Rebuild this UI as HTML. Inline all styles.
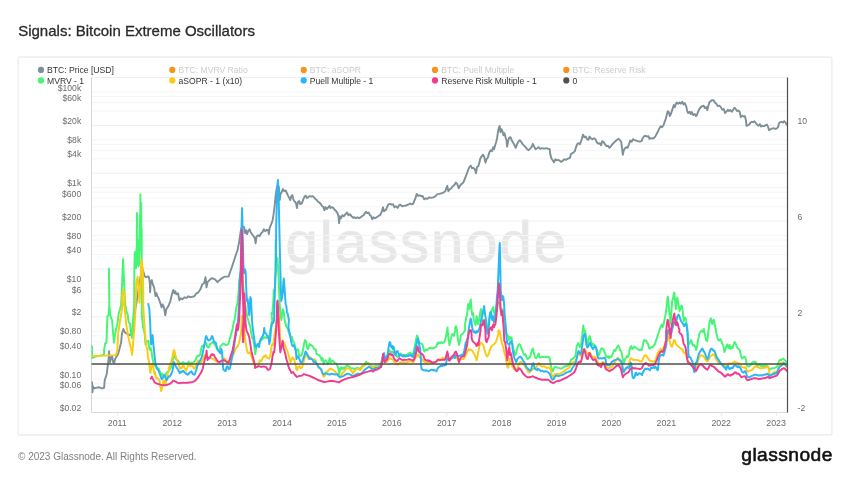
<!DOCTYPE html>
<html><head><meta charset="utf-8"><title>Signals: Bitcoin Extreme Oscillators</title>
<style>
html,body{margin:0;padding:0;background:#fff;}
body{width:850px;height:478px;overflow:hidden;font-family:"Liberation Sans",sans-serif;}
svg{display:block;will-change:transform}
text{font-family:"Liberation Sans",sans-serif;}
</style></head><body>
<svg width="850" height="478" viewBox="0 0 850 478">
<rect width="850" height="478" fill="#fff"/>

<text x="18.2" y="35.8" font-size="15" fill="#2a2a2a" stroke="#2a2a2a" stroke-width="0.3">Signals: Bitcoin Extreme Oscillators</text>
<rect x="18.2" y="57.1" width="813.7" height="377.8" rx="1.5" fill="none" stroke="#f0f0f0" stroke-width="1.6"/>
<text x="285.6" y="262" font-size="58" fill="#e7e7e7" stroke="#e7e7e7" stroke-width="0.9" textLength="280.5" lengthAdjust="spacing">glassnode</text>
<line x1="91.5" x2="787.5" y1="77.5" y2="77.5" stroke="#eeeeee" stroke-width="1"/>
<line x1="91.5" x2="787.5" y1="111.0" y2="111.0" stroke="#f5f5f5" stroke-width="1"/>
<line x1="91.5" x2="787.5" y1="102.5" y2="102.5" stroke="#f5f5f5" stroke-width="1"/>
<line x1="91.5" x2="787.5" y1="96.5" y2="96.5" stroke="#f5f5f5" stroke-width="1"/>
<line x1="91.5" x2="787.5" y1="91.9" y2="91.9" stroke="#f5f5f5" stroke-width="1"/>
<line x1="91.5" x2="787.5" y1="125.4" y2="125.4" stroke="#eeeeee" stroke-width="1"/>
<line x1="91.5" x2="787.5" y1="158.8" y2="158.8" stroke="#f5f5f5" stroke-width="1"/>
<line x1="91.5" x2="787.5" y1="150.4" y2="150.4" stroke="#f5f5f5" stroke-width="1"/>
<line x1="91.5" x2="787.5" y1="144.4" y2="144.4" stroke="#f5f5f5" stroke-width="1"/>
<line x1="91.5" x2="787.5" y1="139.8" y2="139.8" stroke="#f5f5f5" stroke-width="1"/>
<line x1="91.5" x2="787.5" y1="173.2" y2="173.2" stroke="#eeeeee" stroke-width="1"/>
<line x1="91.5" x2="787.5" y1="206.7" y2="206.7" stroke="#f5f5f5" stroke-width="1"/>
<line x1="91.5" x2="787.5" y1="198.2" y2="198.2" stroke="#f5f5f5" stroke-width="1"/>
<line x1="91.5" x2="787.5" y1="192.3" y2="192.3" stroke="#f5f5f5" stroke-width="1"/>
<line x1="91.5" x2="787.5" y1="187.6" y2="187.6" stroke="#f5f5f5" stroke-width="1"/>
<line x1="91.5" x2="787.5" y1="221.1" y2="221.1" stroke="#eeeeee" stroke-width="1"/>
<line x1="91.5" x2="787.5" y1="254.5" y2="254.5" stroke="#f5f5f5" stroke-width="1"/>
<line x1="91.5" x2="787.5" y1="246.1" y2="246.1" stroke="#f5f5f5" stroke-width="1"/>
<line x1="91.5" x2="787.5" y1="240.1" y2="240.1" stroke="#f5f5f5" stroke-width="1"/>
<line x1="91.5" x2="787.5" y1="235.5" y2="235.5" stroke="#f5f5f5" stroke-width="1"/>
<line x1="91.5" x2="787.5" y1="268.9" y2="268.9" stroke="#eeeeee" stroke-width="1"/>
<line x1="91.5" x2="787.5" y1="302.4" y2="302.4" stroke="#f5f5f5" stroke-width="1"/>
<line x1="91.5" x2="787.5" y1="294.0" y2="294.0" stroke="#f5f5f5" stroke-width="1"/>
<line x1="91.5" x2="787.5" y1="288.0" y2="288.0" stroke="#f5f5f5" stroke-width="1"/>
<line x1="91.5" x2="787.5" y1="283.3" y2="283.3" stroke="#f5f5f5" stroke-width="1"/>
<line x1="91.5" x2="787.5" y1="316.8" y2="316.8" stroke="#eeeeee" stroke-width="1"/>
<line x1="91.5" x2="787.5" y1="350.2" y2="350.2" stroke="#f5f5f5" stroke-width="1"/>
<line x1="91.5" x2="787.5" y1="341.8" y2="341.8" stroke="#f5f5f5" stroke-width="1"/>
<line x1="91.5" x2="787.5" y1="335.8" y2="335.8" stroke="#f5f5f5" stroke-width="1"/>
<line x1="91.5" x2="787.5" y1="331.2" y2="331.2" stroke="#f5f5f5" stroke-width="1"/>
<line x1="91.5" x2="787.5" y1="364.6" y2="364.6" stroke="#eeeeee" stroke-width="1"/>
<line x1="91.5" x2="787.5" y1="398.1" y2="398.1" stroke="#f5f5f5" stroke-width="1"/>
<line x1="91.5" x2="787.5" y1="389.7" y2="389.7" stroke="#f5f5f5" stroke-width="1"/>
<line x1="91.5" x2="787.5" y1="383.7" y2="383.7" stroke="#f5f5f5" stroke-width="1"/>
<line x1="91.5" x2="787.5" y1="379.0" y2="379.0" stroke="#f5f5f5" stroke-width="1"/>
<line x1="91.5" x2="787.5" y1="412.5" y2="412.5" stroke="#eeeeee" stroke-width="1"/>
<line x1="91.5" x2="91.5" y1="77.5" y2="412.5" stroke="#cfd8dc" stroke-width="1"/>
<line x1="91.5" x2="787.5" y1="412.5" y2="412.5" stroke="#d5dde2" stroke-width="1"/>
<line x1="117.5" x2="117.5" y1="412.5" y2="415.5" stroke="#e3e8ec" stroke-width="1"/>
<line x1="172.4" x2="172.4" y1="412.5" y2="415.5" stroke="#e3e8ec" stroke-width="1"/>
<line x1="227.3" x2="227.3" y1="412.5" y2="415.5" stroke="#e3e8ec" stroke-width="1"/>
<line x1="282.2" x2="282.2" y1="412.5" y2="415.5" stroke="#e3e8ec" stroke-width="1"/>
<line x1="337.1" x2="337.1" y1="412.5" y2="415.5" stroke="#e3e8ec" stroke-width="1"/>
<line x1="392.0" x2="392.0" y1="412.5" y2="415.5" stroke="#e3e8ec" stroke-width="1"/>
<line x1="446.9" x2="446.9" y1="412.5" y2="415.5" stroke="#e3e8ec" stroke-width="1"/>
<line x1="501.8" x2="501.8" y1="412.5" y2="415.5" stroke="#e3e8ec" stroke-width="1"/>
<line x1="556.7" x2="556.7" y1="412.5" y2="415.5" stroke="#e3e8ec" stroke-width="1"/>
<line x1="611.6" x2="611.6" y1="412.5" y2="415.5" stroke="#e3e8ec" stroke-width="1"/>
<line x1="666.5" x2="666.5" y1="412.5" y2="415.5" stroke="#e3e8ec" stroke-width="1"/>
<line x1="721.4" x2="721.4" y1="412.5" y2="415.5" stroke="#e3e8ec" stroke-width="1"/>
<line x1="776.3" x2="776.3" y1="412.5" y2="415.5" stroke="#e3e8ec" stroke-width="1"/>
<text x="81.2" y="90.5" font-size="8.6" text-anchor="end" fill="#6a6a6a">$100k</text>
<text x="81.2" y="101.1" font-size="8.6" text-anchor="end" fill="#6a6a6a">$60k</text>
<text x="81.2" y="124.0" font-size="8.6" text-anchor="end" fill="#6a6a6a">$20k</text>
<text x="81.2" y="143.0" font-size="8.6" text-anchor="end" fill="#6a6a6a">$8k</text>
<text x="81.2" y="157.4" font-size="8.6" text-anchor="end" fill="#6a6a6a">$4k</text>
<text x="81.2" y="186.2" font-size="8.6" text-anchor="end" fill="#6a6a6a">$1k</text>
<text x="81.2" y="196.8" font-size="8.6" text-anchor="end" fill="#6a6a6a">$600</text>
<text x="81.2" y="219.7" font-size="8.6" text-anchor="end" fill="#6a6a6a">$200</text>
<text x="81.2" y="238.7" font-size="8.6" text-anchor="end" fill="#6a6a6a">$80</text>
<text x="81.2" y="253.1" font-size="8.6" text-anchor="end" fill="#6a6a6a">$40</text>
<text x="81.2" y="281.9" font-size="8.6" text-anchor="end" fill="#6a6a6a">$10</text>
<text x="81.2" y="292.6" font-size="8.6" text-anchor="end" fill="#6a6a6a">$6</text>
<text x="81.2" y="315.4" font-size="8.6" text-anchor="end" fill="#6a6a6a">$2</text>
<text x="81.2" y="334.4" font-size="8.6" text-anchor="end" fill="#6a6a6a">$0.80</text>
<text x="81.2" y="348.8" font-size="8.6" text-anchor="end" fill="#6a6a6a">$0.40</text>
<text x="81.2" y="377.7" font-size="8.6" text-anchor="end" fill="#6a6a6a">$0.10</text>
<text x="81.2" y="388.3" font-size="8.6" text-anchor="end" fill="#6a6a6a">$0.06</text>
<text x="81.2" y="411.1" font-size="8.6" text-anchor="end" fill="#6a6a6a">$0.02</text>
<text x="797.6" y="124.3" font-size="8.6" fill="#6a6a6a">10</text>
<text x="797.6" y="220.1" font-size="8.6" fill="#6a6a6a">6</text>
<text x="797.6" y="315.6" font-size="8.6" fill="#6a6a6a">2</text>
<text x="797.6" y="411.3" font-size="8.6" fill="#6a6a6a">-2</text>
<text x="117.3" y="426" font-size="8.8" text-anchor="middle" fill="#6a6a6a">2011</text>
<text x="172.2" y="426" font-size="8.8" text-anchor="middle" fill="#6a6a6a">2012</text>
<text x="227.1" y="426" font-size="8.8" text-anchor="middle" fill="#6a6a6a">2013</text>
<text x="282.0" y="426" font-size="8.8" text-anchor="middle" fill="#6a6a6a">2014</text>
<text x="336.9" y="426" font-size="8.8" text-anchor="middle" fill="#6a6a6a">2015</text>
<text x="391.8" y="426" font-size="8.8" text-anchor="middle" fill="#6a6a6a">2016</text>
<text x="446.7" y="426" font-size="8.8" text-anchor="middle" fill="#6a6a6a">2017</text>
<text x="501.6" y="426" font-size="8.8" text-anchor="middle" fill="#6a6a6a">2018</text>
<text x="556.5" y="426" font-size="8.8" text-anchor="middle" fill="#6a6a6a">2019</text>
<text x="611.4" y="426" font-size="8.8" text-anchor="middle" fill="#6a6a6a">2020</text>
<text x="666.3" y="426" font-size="8.8" text-anchor="middle" fill="#6a6a6a">2021</text>
<text x="721.2" y="426" font-size="8.8" text-anchor="middle" fill="#6a6a6a">2022</text>
<text x="776.1" y="426" font-size="8.8" text-anchor="middle" fill="#6a6a6a">2023</text>
<clipPath id="cp"><rect x="91.5" y="75.5" width="696.0" height="337.0"/></clipPath><g clip-path="url(#cp)">
<path d="M92.0,382.2 L92.4,392.3 L93.0,386.3 L94.0,388.3 L96.0,387.9 L99.0,387.3 L102.0,388.3 L104.1,387.9 L104.7,380.2 L105.7,377.2 L106.7,374.2 L107.7,366.2 L108.5,360.2 L109.1,351.1 L109.5,359.2 L110.1,362.2 L111.1,357.1 L112.1,356.1 L113.1,362.2 L114.1,363.2 L115.1,359.2 L116.1,357.1 L118.1,354.1 L119.2,350.0 L121.1,342.6 L122.0,333.2 L123.4,329.0 L124.8,332.3 L126.2,333.2 L127.6,334.2 L129.5,335.1 L132.8,333.2 L133.8,323.8 L135.2,309.7 L136.1,305.0 L137.2,298.0 L138.5,290.0 L140.0,280.0 L141.5,272.0 L142.8,269.7 L144.7,276.3 L146.1,277.2 L148.0,276.3 L148.9,277.2 L149.9,283.8 L150.1,292.3 L150.8,281.9 L151.8,280.1 L152.7,283.8 L154.1,287.6 L155.5,296.1 L156.5,293.2 L157.4,296.1 L158.4,297.9 L160.2,302.6 L161.6,307.4 L162.6,304.5 L164.0,307.4 L165.3,315.4 L166.3,309.3 L168.3,306.3 L170.3,301.3 L171.9,294.3 L173.3,289.9 L174.3,293.3 L175.3,291.3 L176.3,294.3 L178.0,293.3 L179.4,300.3 L180.8,298.3 L182.4,299.3 L184.4,297.3 L186.4,297.9 L188.4,296.3 L190.4,297.3 L192.4,296.7 L194.4,296.3 L196.4,293.3 L198.4,292.3 L200.4,289.3 L202.4,284.2 L204.1,283.2 L205.5,277.2 L206.5,287.3 L207.5,282.2 L209.5,280.2 L211.5,278.2 L213.5,278.6 L215.5,279.8 L217.5,282.2 L219.5,280.2 L221.5,278.6 L223.5,277.2 L225.5,276.6 L228.6,276.6 L230.1,272.0 L232.1,266.4 L234.1,260.3 L236.1,254.3 L237.5,250.3 L239.1,242.3 L240.1,235.2 L241.1,229.2 L242.1,226.2 L244.1,227.2 L245.1,233.2 L246.1,230.2 L247.1,234.2 L248.1,231.2 L249.5,229.2 L250.7,232.2 L252.1,234.2 L253.6,236.2 L254.8,238.2 L255.6,243.3 L256.6,236.2 L258.2,235.2 L259.6,236.2 L261.2,233.2 L262.6,231.8 L263.8,229.2 L265.2,231.2 L266.8,229.8 L268.2,230.2 L268.8,234.2 L269.6,228.2 L271.2,224.2 L272.6,220.2 L273.6,214.2 L274.6,206.1 L275.6,196.1 L276.4,190.1 L277.2,186.0 L278.9,187.0 L279.7,200.1 L280.5,194.1 L281.7,192.1 L282.9,189.1 L284.3,191.1 L285.7,190.5 L286.9,193.1 L288.3,196.1 L289.3,198.1 L290.3,200.1 L291.3,196.1 L292.3,195.1 L293.3,199.1 L294.3,201.1 L295.3,202.1 L296.3,204.1 L296.9,208.1 L297.9,202.1 L299.3,201.1 L300.3,204.1 L301.7,203.7 L303.4,199.1 L304.8,196.1 L305.8,195.7 L307.0,198.1 L308.4,197.1 L309.8,196.1 L311.4,196.5 L312.8,196.1 L314.4,197.7 L315.4,199.1 L316.8,200.1 L318.0,201.7 L319.4,202.5 L320.8,204.1 L322.0,206.1 L323.4,207.1 L324.4,210.1 L325.4,207.1 L326.8,209.1 L328.1,207.7 L329.5,205.7 L330.5,208.1 L331.9,207.1 L333.5,208.1 L334.9,210.1 L336.1,211.1 L337.5,213.1 L338.5,216.2 L339.1,223.2 L339.9,216.2 L341.1,218.2 L342.5,215.2 L343.9,216.2 L345.5,214.2 L347.1,212.5 L348.5,215.2 L349.9,214.2 L351.5,216.2 L353.2,217.8 L354.6,217.2 L356.0,218.2 L357.6,217.2 L359.2,218.2 L360.6,217.2 L362.0,216.2 L363.6,215.2 L365.0,213.1 L366.0,211.7 L367.2,213.1 L368.6,212.5 L370.0,215.2 L371.2,216.2 L372.2,219.2 L373.6,217.2 L375.0,218.2 L376.6,217.2 L378.1,216.2 L379.7,215.2 L380.0,215.3 L381.6,212.3 L383.0,207.3 L384.0,211.3 L385.6,210.3 L387.0,207.3 L388.4,204.3 L390.0,203.9 L391.6,204.7 L393.1,204.3 L394.5,207.3 L396.1,206.3 L397.7,207.9 L399.1,205.3 L400.5,204.7 L402.1,206.3 L404.1,205.9 L406.1,205.5 L408.1,204.7 L410.1,203.5 L411.7,204.3 L413.1,203.9 L414.5,200.3 L415.7,197.3 L416.7,193.9 L418.2,195.9 L419.8,195.3 L421.2,196.3 L422.6,195.9 L424.2,199.3 L425.8,198.3 L427.2,198.9 L429.2,197.3 L431.2,197.9 L433.2,197.3 L435.2,196.3 L437.2,194.3 L439.2,193.9 L441.2,193.3 L443.3,192.7 L445.3,191.2 L446.3,188.2 L447.3,185.8 L448.3,191.2 L449.9,189.2 L451.3,188.2 L452.7,186.2 L454.3,185.2 L455.9,182.6 L457.3,184.2 L458.7,188.2 L460.3,185.2 L461.9,183.8 L463.3,182.6 L464.7,179.2 L466.3,175.2 L468.0,170.2 L469.4,167.1 L470.8,165.7 L472.0,168.2 L473.4,167.8 L474.8,169.2 L476.0,173.2 L477.0,167.1 L478.4,166.1 L479.8,161.1 L480.0,159.3 L481.6,156.3 L483.0,154.7 L484.4,157.3 L485.4,162.7 L486.6,159.3 L488.0,157.3 L489.4,152.2 L490.6,150.2 L492.0,151.2 L493.1,147.2 L494.1,149.2 L495.1,145.2 L496.1,142.2 L497.1,138.2 L498.1,131.2 L499.1,127.1 L499.7,126.1 L500.5,132.2 L501.5,129.2 L502.5,131.2 L503.5,135.2 L504.5,133.2 L505.5,137.2 L506.5,140.2 L507.1,146.6 L508.1,141.2 L509.1,137.8 L510.5,137.2 L511.7,140.2 L513.1,142.6 L514.5,145.2 L515.7,147.8 L517.1,144.2 L518.6,141.2 L519.8,140.2 L521.2,141.8 L522.6,144.2 L524.2,145.8 L525.6,147.2 L527.2,149.2 L528.6,150.2 L530.2,148.6 L531.6,147.2 L532.8,143.8 L534.2,146.6 L535.6,149.2 L537.2,148.2 L538.6,147.2 L540.2,148.8 L542.2,148.2 L544.3,148.6 L546.3,148.2 L548.3,148.8 L549.7,149.2 L550.3,154.3 L551.3,158.3 L552.7,160.3 L553.9,162.3 L555.3,159.3 L556.7,160.3 L558.3,159.9 L559.7,160.7 L561.3,161.9 L562.7,160.7 L564.3,159.3 L565.9,159.9 L567.3,158.9 L568.8,158.3 L570.0,157.9 L570.8,154.3 L572.0,153.3 L573.4,152.7 L574.8,151.2 L576.0,147.2 L577.4,143.8 L578.8,143.2 L580.0,144.2 L581.0,141.2 L582.0,138.2 L583.0,134.6 L584.4,137.2 L585.8,136.6 L587.0,139.2 L588.4,139.8 L589.6,136.6 L590.8,138.2 L592.4,139.2 L593.9,138.2 L595.5,139.2 L596.9,142.6 L598.5,143.8 L599.9,143.2 L601.1,145.2 L602.1,141.2 L603.5,141.8 L604.9,144.2 L606.5,146.2 L607.9,145.8 L609.5,147.8 L610.9,146.2 L612.5,144.2 L613.9,142.6 L615.5,141.2 L616.9,139.8 L618.6,138.8 L620.0,140.2 L621.2,141.8 L622.0,148.2 L622.8,154.7 L623.8,150.2 L625.0,148.2 L626.2,147.2 L627.6,147.8 L629.0,144.2 L630.2,140.6 L631.6,141.8 L633.0,139.2 L634.6,140.2 L636.2,140.6 L637.6,141.2 L639.6,141.4 L640.0,141.6 L641.6,141.2 L642.7,138.2 L644.1,136.2 L645.7,135.8 L647.1,136.6 L648.5,136.2 L649.5,138.8 L651.1,138.2 L652.5,138.6 L654.1,137.8 L655.5,136.2 L656.7,133.8 L658.1,131.2 L659.5,128.2 L660.7,126.2 L662.1,127.2 L663.5,125.2 L664.5,122.2 L665.7,119.2 L666.7,115.1 L667.8,111.1 L668.8,112.1 L669.8,116.1 L670.8,114.1 L671.8,111.1 L672.8,108.1 L673.8,105.1 L674.8,107.1 L675.8,104.1 L676.8,102.5 L678.2,103.7 L679.6,102.5 L680.8,103.7 L682.2,101.7 L683.6,104.5 L684.8,103.1 L686.2,106.1 L687.2,111.1 L688.2,113.1 L689.6,111.7 L690.8,114.1 L691.8,112.1 L693.3,115.1 L694.7,114.1 L695.9,116.1 L696.9,115.1 L697.9,112.1 L699.3,109.1 L700.7,107.1 L702.3,106.1 L703.7,105.7 L704.9,108.1 L706.3,107.1 L707.3,110.1 L708.3,106.1 L709.3,102.5 L710.7,101.1 L712.3,100.1 L713.7,100.5 L714.9,102.5 L716.3,103.7 L717.8,106.1 L719.4,105.7 L720.8,107.1 L722.4,109.7 L723.8,109.1 L725.0,113.1 L726.4,111.7 L727.8,109.7 L729.0,111.1 L730.4,110.1 L731.8,111.7 L733.0,110.1 L734.4,107.7 L735.8,109.1 L737.0,111.1 L738.4,110.5 L739.8,112.1 L740.8,117.1 L742.0,115.7 L743.5,116.5 L744.9,116.1 L745.9,120.2 L746.5,125.8 L747.9,125.2 L749.1,124.6 L750.5,122.6 L751.9,121.8 L753.1,122.2 L754.5,121.2 L755.9,123.2 L757.1,124.6 L758.5,125.8 L759.9,124.2 L761.1,126.6 L762.5,125.8 L764.1,126.2 L765.5,125.2 L766.9,124.6 L768.2,127.2 L769.0,130.2 L770.6,129.2 L772.2,128.6 L773.6,128.2 L775.0,128.8 L776.6,128.6 L778.0,127.2 L779.0,123.2 L780.2,122.2 L781.6,121.8 L783.0,122.6 L784.2,121.2 L785.6,122.6 L786.6,124.6" fill="none" stroke="#7d8f97" stroke-width="1.9" stroke-linejoin="round" stroke-linecap="round"/>
<path d="M92.0,346.1 L92.0,358.2 L94.0,357.1 L98.0,356.1 L102.0,355.1 L104.1,354.1 L104.1,350.0 L105.1,343.6 L106.5,342.6 L107.4,316.3 L108.4,315.4 L109.3,305.0 L108.9,268.8 L109.4,305.0 L110.2,314.4 L111.2,318.2 L112.1,320.1 L113.1,333.2 L114.0,342.6 L114.9,336.1 L115.9,329.5 L117.3,324.8 L118.7,313.5 L120.1,308.8 L121.1,305.0 L121.6,295.0 L122.4,275.0 L123.1,258.9 L123.9,278.0 L124.8,298.0 L125.3,305.0 L126.2,310.6 L127.6,314.4 L128.6,321.9 L130.0,323.8 L130.9,333.2 L131.9,337.9 L132.8,323.8 L133.8,309.7 L134.2,305.0 L134.3,270.0 L134.8,252.3 L135.2,265.0 L135.6,252.0 L136.0,268.0 L136.4,250.0 L136.7,262.0 L137.0,213.0 L137.3,258.0 L137.6,240.0 L137.9,265.0 L138.3,252.0 L138.7,266.0 L139.2,262.0 L139.8,215.0 L140.1,250.0 L140.4,194.4 L140.8,240.0 L141.2,203.0 L141.5,255.0 L141.7,228.0 L141.8,305.0 L141.8,314.4 L142.7,323.8 L143.2,327.6 L144.6,333.2 L145.5,344.5 L146.9,341.7 L148.4,340.8 L149.3,348.3 L150.2,350.0 L150.8,348.1 L151.5,351.1 L152.2,356.1 L152.8,360.1 L153.5,363.1 L154.5,365.1 L155.6,366.2 L156.6,368.2 L157.6,369.2 L158.6,368.2 L159.6,371.2 L160.6,373.2 L161.6,375.7 L162.6,373.7 L163.6,375.2 L164.6,375.7 L165.6,374.2 L166.6,372.7 L167.6,371.7 L168.6,371.2 L169.6,369.7 L170.6,368.2 L171.6,365.1 L172.6,361.1 L173.4,357.1 L174.1,355.1 L174.9,357.1 L176.0,359.1 L177.0,360.1 L178.0,360.6 L179.0,362.1 L180.0,363.1 L181.0,363.6 L182.0,363.1 L183.0,362.1 L184.0,363.1 L185.0,363.6 L186.0,363.1 L187.0,363.3 L188.0,362.6 L188.7,361.6 L189.7,362.6 L190.7,363.1 L191.7,362.6 L192.7,362.9 L193.7,362.1 L194.7,361.1 L195.8,359.6 L196.8,356.6 L197.8,355.6 L198.8,356.1 L199.8,355.1 L200.5,353.1 L201.3,348.1 L202.1,346.1 L202.8,346.6 L203.5,346.1 L204.3,345.0 L205.3,344.0 L206.3,343.0 L207.1,346.1 L208.1,347.6 L209.1,347.1 L209.8,344.5 L210.8,343.5 L211.8,343.0 L212.8,342.0 L213.8,343.0 L215.0,345.1 L216.0,346.1 L217.0,349.1 L218.0,350.2 L219.5,350.2 L220.5,346.1 L221.5,345.1 L223.0,343.6 L224.5,344.1 L226.1,345.1 L227.6,344.6 L228.6,343.6 L229.6,339.1 L230.6,336.1 L231.6,332.1 L232.6,329.0 L233.6,323.0 L234.6,320.0 L235.1,316.2 L236.6,306.2 L237.6,302.2 L238.6,292.1 L239.1,282.1 L239.6,278.0 L241.2,268.0 L243.0,285.0 L244.5,300.0 L246.0,310.0 L247.5,318.0 L248.2,320.0 L249.2,324.0 L250.2,326.0 L251.2,333.1 L252.2,338.1 L253.2,339.6 L254.2,345.1 L255.2,354.2 L256.2,348.1 L257.2,344.1 L258.2,345.1 L259.2,343.1 L260.2,342.1 L261.2,339.1 L262.2,339.6 L263.2,338.1 L264.7,337.1 L266.3,338.1 L267.3,337.1 L268.3,336.1 L269.3,337.1 L270.3,330.1 L271.3,324.0 L272.3,320.0 L271.3,313.2 L272.3,314.2 L273.3,302.2 L273.8,290.1 L274.3,297.1 L275.3,282.1 L275.7,240.3 L276.3,262.0 L277.5,258.3 L278.3,272.0 L278.8,282.1 L279.3,297.1 L279.8,305.2 L280.3,312.2 L281.3,320.0 L282.8,309.2 L283.8,312.2 L284.5,320.0 L285.4,323.0 L286.4,327.0 L287.9,329.0 L288.9,333.1 L290.4,336.1 L291.9,337.1 L292.9,341.1 L294.4,343.1 L295.4,348.1 L296.4,350.2 L297.0,350.1 L298.0,349.1 L299.0,355.1 L300.5,356.1 L302.0,354.1 L303.0,350.1 L304.0,344.1 L305.1,340.1 L306.1,341.1 L307.1,348.1 L308.1,349.1 L309.6,344.1 L311.1,345.1 L312.6,346.1 L314.1,349.1 L315.6,349.1 L316.6,354.1 L317.6,354.6 L319.1,355.1 L320.6,357.1 L321.6,360.2 L322.6,358.1 L323.6,364.2 L324.6,361.2 L325.7,360.2 L326.7,362.2 L327.7,364.2 L328.7,362.2 L329.7,358.1 L330.7,362.2 L331.7,361.2 L332.7,360.7 L334.2,362.2 L335.7,363.2 L336.7,364.2 L337.7,366.2 L338.7,370.2 L339.2,374.2 L340.2,368.2 L341.2,367.2 L342.2,369.2 L343.2,367.7 L344.2,368.7 L345.8,366.2 L347.3,365.2 L348.8,366.2 L350.3,367.7 L351.8,368.7 L353.3,368.2 L354.8,369.7 L356.3,368.2 L357.8,367.7 L359.3,368.7 L360.8,368.2 L362.3,366.2 L363.8,365.2 L365.4,363.2 L366.2,361.7 L366.9,363.2 L367.9,362.7 L368.9,363.7 L370.4,365.2 L371.9,366.2 L373.4,366.7 L375.4,366.2 L377.4,365.7 L379.0,364.7 L381.0,363.2 L382.5,358.1 L383.5,355.1 L384.5,357.1 L385.6,358.6 L386.6,356.6 L387.6,354.6 L388.6,352.1 L389.6,350.6 L390.6,351.6 L391.6,352.6 L392.6,351.6 L393.6,352.6 L394.6,354.1 L395.6,355.1 L396.6,356.1 L397.6,357.1 L398.6,355.6 L399.6,354.1 L400.6,353.6 L401.6,354.6 L402.6,355.1 L404.1,354.6 L405.7,355.1 L407.2,354.6 L408.7,353.6 L409.7,352.6 L410.7,354.1 L411.7,353.6 L412.7,355.1 L413.7,352.1 L414.4,348.1 L415.2,344.1 L416.0,340.1 L416.7,336.5 L417.2,335.5 L418.0,338.0 L418.7,341.1 L419.4,342.6 L420.2,343.1 L421.2,343.6 L422.2,344.1 L423.0,346.1 L423.7,350.1 L424.4,351.6 L425.3,350.1 L426.3,349.6 L427.3,350.1 L428.3,349.1 L429.3,348.1 L430.3,347.6 L431.3,348.6 L432.3,348.1 L433.3,348.6 L434.3,347.6 L435.3,347.1 L436.3,346.6 L437.1,344.1 L437.8,342.6 L438.5,343.6 L439.3,342.6 L440.3,343.1 L441.3,342.1 L442.3,343.1 L443.3,342.6 L444.3,342.1 L445.2,340.1 L445.9,337.0 L446.6,333.0 L447.2,330.0 L447.6,327.5 L447.6,330.0 L448.2,336.0 L448.9,341.1 L449.4,345.1 L450.2,341.1 L450.9,339.0 L451.6,336.0 L452.4,334.0 L453.2,335.0 L453.9,336.0 L454.6,333.0 L455.4,330.0 L455.0,328.2 L456.0,326.2 L457.0,330.2 L458.0,340.1 L459.0,345.1 L460.0,340.1 L461.0,335.0 L462.5,334.0 L464.0,332.0 L465.1,330.0 L465.1,324.2 L466.1,318.1 L467.1,315.1 L468.1,304.1 L469.1,309.1 L470.1,302.1 L470.8,299.5 L471.6,310.1 L472.3,315.1 L473.1,313.1 L473.9,320.2 L474.6,322.2 L475.6,325.2 L476.6,316.1 L477.3,320.2 L478.1,324.2 L479.1,320.2 L480.1,313.1 L480.9,309.1 L481.6,314.1 L482.3,320.2 L483.6,321.2 L485.2,320.2 L486.2,325.2 L487.2,330.2 L488.2,325.2 L489.2,318.1 L490.2,312.1 L491.2,311.1 L492.2,309.1 L493.2,307.1 L494.0,312.1 L494.7,315.1 L495.7,310.1 L496.7,305.1 L497.7,302.1 L499.2,303.1 L500.2,308.1 L501.2,311.1 L502.2,309.1 L503.0,310.1 L503.7,320.2 L504.7,330.2 L506.8,334.0 L508.1,336.0 L508.8,340.1 L509.8,337.0 L510.8,339.0 L511.5,337.5 L512.3,343.1 L513.1,348.1 L513.8,350.1 L514.5,353.1 L515.3,355.1 L516.3,352.1 L517.3,348.1 L518.3,345.1 L519.3,344.1 L520.3,345.1 L521.3,348.1 L522.3,350.1 L523.3,353.1 L524.3,355.1 L525.4,354.1 L526.4,357.1 L527.4,359.1 L528.9,358.1 L529.9,357.1 L530.9,354.1 L531.9,350.1 L532.9,348.6 L533.9,353.1 L534.9,357.1 L535.9,358.1 L536.9,357.1 L537.9,355.1 L538.0,354.6 L538.8,353.6 L539.5,357.1 L540.5,357.6 L541.5,356.6 L543.0,357.1 L544.5,356.6 L546.1,357.1 L547.6,356.6 L549.1,357.1 L549.9,359.1 L550.6,364.1 L551.3,367.2 L552.1,370.2 L552.9,371.2 L553.9,368.2 L554.9,366.7 L556.1,367.2 L557.6,367.7 L559.1,368.2 L560.6,368.7 L562.1,368.2 L563.6,367.2 L565.2,366.2 L566.7,366.2 L568.2,365.6 L569.2,364.1 L570.2,362.1 L571.0,359.6 L572.0,359.1 L573.0,358.6 L574.2,357.6 L575.2,356.1 L576.0,352.1 L576.7,346.1 L577.4,345.0 L578.2,343.0 L579.0,345.0 L579.7,347.1 L580.7,346.1 L581.4,342.0 L582.2,337.0 L582.6,331.1 L583.3,325.5 L584.1,332.1 L585.1,330.6 L585.9,335.1 L585.8,336.0 L586.5,340.0 L587.3,344.0 L588.1,342.0 L588.8,338.0 L589.5,336.0 L590.1,337.0 L590.8,340.0 L591.5,343.0 L592.3,345.0 L593.3,344.0 L594.3,345.0 L595.3,346.1 L596.3,348.1 L597.3,351.1 L598.1,354.1 L598.8,355.1 L599.8,353.1 L600.8,349.1 L601.8,348.1 L602.8,348.6 L603.8,350.1 L604.8,353.1 L605.0,353.1 L606.0,356.1 L607.0,357.1 L608.0,356.1 L609.0,358.1 L610.1,356.6 L611.1,357.1 L612.1,355.1 L613.1,353.1 L614.1,350.1 L615.1,351.1 L616.1,349.0 L617.1,347.0 L618.1,345.5 L619.1,347.0 L620.1,350.1 L621.1,351.1 L621.9,354.1 L622.6,358.1 L623.3,361.1 L624.1,363.1 L624.9,359.1 L625.9,358.1 L626.9,356.1 L627.9,357.1 L628.9,354.1 L629.6,350.1 L630.4,347.0 L631.2,346.0 L632.2,349.0 L633.2,348.0 L634.2,346.5 L635.2,347.0 L636.2,348.0 L637.7,349.0 L639.2,350.1 L640.7,349.5 L641.7,350.1 L642.7,346.0 L643.4,342.0 L644.2,340.0 L645.2,341.0 L646.2,340.5 L647.2,343.0 L648.2,344.0 L649.0,348.0 L650.1,348.5 L651.1,347.0 L652.1,347.5 L653.1,346.5 L654.1,345.0 L655.1,344.0 L655.8,341.0 L656.3,340.0 L657.5,336.1 L658.5,333.0 L659.5,330.0 L660.6,327.0 L661.6,324.7 L662.6,327.2 L663.6,324.2 L664.6,319.2 L665.6,314.2 L666.6,307.1 L667.3,299.1 L667.9,296.6 L668.6,304.1 L669.3,312.1 L670.1,319.2 L670.6,324.2 L671.3,314.2 L672.1,301.1 L672.9,299.1 L673.6,295.1 L674.3,292.8 L675.1,301.1 L675.9,309.1 L676.6,302.1 L677.3,297.6 L678.1,302.1 L678.9,307.1 L679.6,311.1 L680.7,307.1 L681.7,305.6 L682.4,309.1 L683.0,314.2 L683.7,321.2 L684.4,318.2 L685.2,317.7 L686.0,319.2 L686.7,324.2 L687.2,328.2 L687.7,332.0 L688.2,341.1 L689.2,344.1 L690.2,342.1 L691.2,340.1 L692.2,344.1 L693.2,345.6 L694.2,345.1 L695.2,346.6 L696.2,350.1 L697.0,347.1 L697.7,342.1 L698.7,337.1 L699.7,333.0 L700.8,331.5 L701.8,330.5 L702.8,332.0 L703.8,329.0 L704.5,333.0 L705.3,336.1 L706.1,340.1 L707.1,341.1 L707.8,337.1 L708.5,330.0 L709.3,326.0 L709.3,323.2 L710.1,320.2 L710.8,318.2 L711.5,322.2 L712.3,324.2 L713.1,320.2 L713.8,319.7 L714.5,323.2 L715.3,327.2 L716.1,330.2 L715.8,331.0 L716.5,334.1 L717.3,337.1 L718.3,340.1 L719.3,340.6 L720.4,339.1 L721.4,341.1 L722.4,344.1 L723.4,346.1 L724.4,352.1 L725.4,349.1 L726.4,346.1 L727.4,344.6 L728.6,348.1 L729.6,345.0 L730.6,349.1 L731.6,347.1 L732.6,348.1 L733.6,344.5 L734.6,342.0 L735.6,343.5 L736.6,346.1 L737.6,348.1 L738.6,349.1 L739.6,349.6 L740.6,354.1 L741.3,357.1 L742.1,358.6 L743.1,357.6 L744.1,356.6 L745.2,357.1 L746.0,360.1 L746.7,365.1 L747.7,366.2 L748.7,366.7 L749.7,365.6 L750.7,365.1 L751.7,363.1 L752.7,362.1 L753.7,362.6 L754.7,361.6 L755.7,362.1 L756.4,364.6 L757.2,365.6 L758.2,366.2 L759.2,364.1 L760.2,365.1 L761.2,366.2 L762.2,365.6 L763.2,366.2 L764.2,365.6 L765.3,366.2 L766.3,365.6 L767.3,366.2 L768.3,367.2 L769.3,368.7 L770.3,369.2 L771.3,368.7 L772.3,368.2 L773.8,368.2 L775.3,367.7 L776.3,367.2 L777.3,366.2 L778.3,363.1 L779.3,360.6 L780.3,359.6 L781.3,360.1 L782.3,359.1 L783.3,358.6 L784.3,359.6 L785.4,360.6 L786.4,362.1 L787.4,362.6" fill="none" stroke="#45f574" stroke-width="1.95" stroke-linejoin="round" stroke-linecap="round"/>
<path d="M92.0,356.1 L116.1,355.1 L117.3,350.0 L118.2,333.2 L119.6,323.8 L121.1,314.4 L122.5,305.0 L122.1,296.1 L123.1,289.9 L124.0,292.3 L124.5,296.1 L124.4,305.0 L125.3,314.4 L126.2,323.8 L127.6,333.2 L129.1,340.8 L130.5,346.4 L131.4,350.0 L132.0,355.0 L132.6,350.0 L133.3,340.8 L134.2,329.5 L135.2,316.3 L135.6,305.0 L136.0,290.0 L136.4,281.0 L137.6,276.8 L138.6,288.5 L139.5,302.6 L140.5,283.8 L141.1,265.0 L141.1,259.4 L142.8,268.8 L143.3,293.2 L143.2,305.0 L143.8,314.4 L144.6,328.5 L145.5,337.9 L146.5,346.4 L147.4,350.0 L148.0,358.1 L148.8,360.1 L149.5,366.2 L150.2,372.2 L150.5,373.0 L150.8,370.2 L151.5,366.2 L152.2,364.1 L153.0,365.1 L153.8,370.2 L154.5,374.2 L155.1,372.0 L155.9,377.1 L156.6,378.6 L157.6,378.1 L158.6,379.1 L159.6,380.6 L160.1,384.6 L160.6,388.1 L161.1,391.1 L161.6,389.6 L162.1,387.1 L162.6,386.1 L163.1,382.1 L163.6,380.1 L164.3,381.1 L164.9,383.6 L165.6,384.1 L166.1,381.1 L166.6,377.1 L167.6,374.0 L168.6,371.0 L169.6,368.0 L168.6,368.2 L169.6,366.2 L170.6,363.6 L171.6,360.6 L172.6,356.1 L173.4,351.6 L174.1,350.1 L174.8,352.1 L175.7,356.1 L176.4,359.1 L177.2,361.1 L178.0,362.6 L178.7,365.1 L179.4,367.2 L180.2,368.7 L181.0,367.7 L181.7,368.2 L182.4,366.2 L183.2,365.1 L184.0,366.7 L184.7,368.2 L185.4,369.2 L186.2,370.7 L187.0,368.2 L187.7,366.2 L188.4,364.6 L189.2,365.1 L190.0,366.2 L190.7,365.6 L191.4,365.1 L192.2,366.2 L193.0,366.7 L193.7,368.2 L194.4,368.7 L195.3,367.2 L196.1,365.1 L196.8,363.1 L197.8,361.1 L198.8,360.6 L199.8,361.6 L200.8,363.1 L201.5,362.1 L202.3,360.1 L203.1,358.6 L203.8,357.6 L204.5,355.6 L205.3,354.6 L206.1,355.6 L207.8,357.1 L209.3,358.1 L210.3,357.6 L211.3,358.1 L212.3,358.6 L213.3,359.1 L214.3,360.1 L215.0,360.2 L216.0,361.2 L217.0,361.7 L218.5,362.2 L220.0,361.7 L221.5,360.7 L222.5,360.2 L224.0,358.2 L225.1,358.7 L226.1,360.2 L227.6,361.2 L228.6,361.7 L230.1,360.2 L231.6,357.2 L232.6,355.2 L233.6,354.2 L234.6,351.2 L235.6,349.1 L236.6,347.1 L237.6,346.6 L238.6,344.1 L239.6,340.1 L240.6,335.1 L241.3,330.1 L241.9,316.0 L242.6,318.0 L244.0,321.0 L244.3,332.1 L245.2,340.1 L246.2,346.1 L247.2,351.2 L248.2,353.2 L249.7,352.2 L250.7,354.2 L251.7,357.2 L252.7,360.2 L253.7,363.2 L254.7,366.2 L255.7,367.2 L257.2,366.8 L258.7,363.2 L259.7,360.2 L260.7,361.2 L261.7,360.2 L262.7,358.2 L263.7,356.2 L264.7,356.7 L265.8,355.2 L266.8,357.2 L267.8,358.2 L268.8,358.7 L269.8,357.2 L270.8,352.2 L271.5,346.1 L272.3,344.1 L273.1,345.1 L273.8,340.1 L274.5,335.1 L275.3,330.1 L276.1,325.0 L276.8,320.0 L277.6,313.0 L278.4,314.0 L279.3,320.0 L279.8,330.1 L280.3,340.1 L281.3,343.1 L282.1,341.1 L284.3,343.1 L285.4,346.1 L286.4,349.1 L287.4,351.2 L288.4,354.2 L289.4,358.2 L290.4,362.2 L291.4,360.2 L292.4,357.2 L293.4,358.2 L294.4,360.2 L295.4,364.2 L296.4,367.2 L296.0,368.2 L297.0,370.2 L298.0,367.2 L299.5,366.2 L300.5,368.2 L302.0,367.7 L303.0,364.2 L304.0,360.2 L305.1,356.1 L306.6,354.1 L307.6,357.1 L308.6,358.6 L310.1,357.1 L311.6,358.6 L313.1,360.2 L314.6,359.1 L315.6,360.2 L316.6,363.2 L318.1,365.7 L319.6,368.2 L321.1,370.2 L322.6,374.2 L323.6,376.7 L324.6,376.2 L325.7,372.2 L327.2,371.7 L328.7,370.2 L329.7,368.7 L331.2,368.7 L332.7,369.7 L334.2,370.7 L335.7,372.2 L337.2,374.2 L338.7,375.7 L339.7,377.2 L341.2,375.2 L342.7,373.2 L344.2,371.2 L345.8,369.2 L347.3,367.7 L348.8,368.7 L350.3,369.7 L351.8,371.2 L352.8,373.2 L354.3,371.2 L355.8,369.7 L357.3,368.7 L358.8,369.2 L360.3,370.2 L361.8,368.2 L363.3,366.2 L364.8,365.2 L366.4,364.2 L367.9,363.7 L369.4,364.7 L370.9,365.7 L372.4,367.2 L373.9,367.7 L375.4,366.7 L376.9,367.2 L378.0,365.7 L379.5,365.2 L381.0,364.2 L382.5,362.2 L383.5,360.2 L384.5,361.2 L385.6,362.2 L386.6,361.7 L387.6,360.7 L388.6,359.1 L389.6,358.1 L390.6,358.6 L391.6,359.1 L392.6,359.6 L393.6,360.7 L394.6,362.2 L396.1,363.2 L397.6,364.7 L398.6,364.2 L399.6,362.7 L401.1,362.2 L402.6,362.7 L404.1,362.2 L405.7,362.7 L407.2,362.2 L408.7,361.7 L410.2,361.2 L411.7,361.7 L413.2,362.2 L414.2,360.2 L415.2,358.1 L416.2,356.6 L417.2,355.1 L418.0,354.6 L418.7,356.1 L419.7,357.1 L420.7,358.1 L421.7,359.1 L422.7,360.2 L423.7,361.7 L424.7,362.2 L426.3,362.7 L427.8,362.2 L429.3,362.7 L430.8,362.2 L432.3,362.7 L433.8,362.2 L435.3,362.0 L436.8,361.2 L437.8,360.2 L439.3,359.6 L440.8,359.1 L442.3,358.1 L443.3,357.6 L444.3,358.6 L445.4,359.1 L446.4,358.1 L447.4,357.1 L448.4,358.6 L449.4,359.6 L450.4,358.6 L451.4,357.6 L452.4,357.1 L453.4,356.6 L454.4,355.6 L455.4,354.6 L456.0,357.1 L457.0,358.1 L458.5,360.2 L460.0,359.6 L461.5,359.1 L463.0,359.1 L464.5,358.1 L465.6,355.1 L466.6,353.1 L467.6,351.1 L468.6,349.1 L469.6,350.1 L470.6,349.6 L471.6,350.1 L472.6,351.1 L473.6,353.1 L474.6,355.1 L475.6,357.1 L476.6,360.2 L477.6,356.1 L478.6,350.1 L479.6,345.1 L480.6,342.6 L481.6,343.1 L482.6,344.1 L483.6,346.1 L484.6,350.1 L485.7,354.1 L487.0,356.6 L488.2,355.1 L489.2,352.1 L490.2,349.1 L491.2,346.6 L492.2,345.6 L493.2,344.6 L494.2,344.1 L495.2,343.1 L496.2,341.1 L497.2,338.0 L498.0,335.0 L498.7,331.0 L498.0,331.2 L498.7,330.2 L499.7,331.2 L499.7,332.0 L500.4,335.0 L501.2,340.1 L502.2,344.1 L503.2,347.1 L504.2,352.1 L505.3,356.1 L506.1,359.1 L506.8,364.2 L507.5,367.2 L508.3,367.7 L509.1,363.2 L509.8,358.6 L510.5,359.1 L511.1,363.2 L511.8,365.2 L512.8,367.2 L514.3,369.2 L515.8,370.2 L516.8,369.7 L517.3,369.2 L518.3,365.2 L519.3,363.2 L520.3,361.7 L521.3,362.2 L522.3,363.7 L523.3,364.2 L524.3,365.2 L525.4,367.2 L526.4,368.7 L527.4,370.2 L528.4,372.2 L529.4,372.7 L530.4,371.2 L531.9,369.7 L533.4,368.7 L535.4,368.2 L536.4,367.2 L537.4,365.2 L538.0,363.6 L539.0,363.1 L540.0,365.1 L541.0,366.2 L542.5,366.7 L544.0,366.2 L545.6,367.2 L547.1,368.2 L548.6,367.2 L549.9,368.2 L550.9,370.2 L551.6,374.2 L552.3,376.2 L553.1,377.2 L553.9,375.2 L554.9,374.2 L556.1,374.7 L557.1,373.7 L558.6,374.2 L560.1,373.7 L561.6,372.7 L563.1,371.7 L564.6,370.7 L566.2,369.7 L567.7,368.7 L569.2,367.7 L570.2,366.2 L571.2,364.1 L572.2,362.6 L573.2,362.1 L574.2,362.6 L575.2,361.6 L576.2,359.1 L577.2,356.1 L578.2,354.1 L579.2,354.6 L580.2,355.6 L581.2,356.1 L582.0,354.1 L582.7,351.1 L583.4,349.1 L584.2,348.6 L585.3,350.1 L586.8,353.1 L587.8,354.1 L588.8,353.1 L589.8,352.6 L590.8,354.6 L591.8,356.1 L592.8,357.6 L593.8,357.1 L594.8,356.6 L595.8,357.6 L596.8,360.1 L597.8,362.1 L598.8,363.6 L600.3,364.1 L601.8,362.6 L603.3,362.1 L604.3,363.1 L604.5,363.6 L605.5,365.1 L606.5,366.6 L607.5,367.6 L609.0,368.1 L610.6,367.6 L612.1,366.6 L613.6,364.1 L615.1,362.1 L616.6,359.1 L617.9,357.6 L619.1,359.1 L620.1,361.1 L621.1,363.1 L622.1,366.1 L623.1,369.1 L624.1,370.2 L626.1,368.1 L627.6,366.6 L628.6,366.1 L629.3,362.1 L630.2,359.1 L631.2,358.1 L632.2,359.1 L633.7,360.1 L635.2,359.6 L636.7,360.1 L638.2,360.1 L639.7,361.1 L641.2,361.6 L642.2,360.6 L643.2,358.1 L644.2,356.1 L645.2,355.1 L646.2,355.6 L647.2,357.1 L648.2,358.6 L649.2,360.1 L650.3,361.1 L651.8,361.1 L653.3,361.6 L654.8,361.1 L655.8,359.1 L656.8,356.1 L657.8,353.1 L658.8,351.6 L659.8,350.1 L660.8,349.0 L661.8,350.1 L662.8,349.5 L664.3,346.0 L665.3,343.0 L666.3,340.0 L665.1,344.1 L666.1,339.1 L667.1,334.1 L668.1,331.0 L668.6,334.1 L669.3,340.1 L670.1,343.1 L671.1,346.1 L672.1,346.6 L673.1,343.1 L674.1,340.1 L674.9,340.6 L675.6,343.1 L676.6,345.1 L677.6,345.6 L678.6,346.6 L679.6,347.6 L680.7,348.6 L681.7,348.6 L682.7,350.1 L683.7,352.6 L684.7,353.1 L685.7,352.1 L686.7,357.2 L688.2,362.2 L690.2,363.7 L692.2,365.2 L694.2,366.7 L695.2,366.2 L696.2,367.2 L697.2,364.2 L698.2,360.2 L699.2,357.2 L700.3,355.7 L701.3,355.2 L702.3,355.7 L703.3,356.2 L704.3,357.2 L705.3,359.2 L706.3,360.7 L707.3,361.2 L708.3,360.2 L709.3,358.2 L710.3,356.2 L711.3,355.7 L712.3,355.2 L713.3,354.2 L714.3,354.7 L715.3,357.2 L716.3,359.2 L717.3,361.2 L718.3,362.7 L719.3,363.7 L722.4,364.2 L724.4,364.7 L725.4,366.2 L726.4,368.2 L727.2,365.2 L729.1,363.1 L731.1,363.6 L733.1,362.6 L734.6,361.6 L735.6,362.1 L737.1,362.6 L738.6,363.1 L740.1,364.1 L741.1,366.2 L742.6,367.2 L744.1,367.7 L745.7,367.2 L746.7,370.2 L747.7,371.7 L748.7,371.2 L750.2,370.7 L751.7,370.2 L752.7,369.2 L753.7,367.7 L754.7,366.7 L755.7,366.2 L757.2,367.2 L758.7,367.7 L760.2,368.2 L761.7,368.2 L763.2,367.7 L764.7,367.7 L766.3,367.2 L767.8,366.2 L768.5,368.2 L769.3,372.2 L770.1,374.7 L771.1,375.2 L772.3,374.2 L773.3,373.2 L774.3,372.2 L775.3,371.7 L776.3,372.7 L777.3,371.2 L778.3,368.2 L779.3,365.1 L780.3,363.6 L781.3,362.6 L782.3,363.1 L783.3,362.1 L784.3,363.1 L785.4,365.1 L786.4,366.7 L787.4,367.7" fill="none" stroke="#fbcb14" stroke-width="1.95" stroke-linejoin="round" stroke-linecap="round"/>
<path d="M148.3,304.0 L148.6,306.0 L149.3,307.8 L150.2,323.8 L150.7,337.9 L151.2,344.5 L151.6,342.6 L152.6,335.1 L153.2,342.6 L154.2,352.1 L154.8,358.1 L155.6,364.1 L156.6,367.2 L157.6,369.2 L158.6,370.7 L159.6,373.2 L160.6,376.2 L161.6,379.2 L162.6,378.2 L163.6,376.2 L164.6,375.2 L165.6,378.2 L166.6,380.2 L167.6,378.2 L168.6,376.2 L169.6,376.7 L170.6,375.2 L171.6,373.2 L172.6,370.2 L173.4,365.1 L174.1,362.1 L174.8,364.1 L175.7,366.2 L176.7,367.7 L177.7,369.2 L178.7,370.7 L179.7,373.2 L180.7,371.7 L181.7,372.2 L182.7,370.7 L183.7,371.2 L184.7,372.7 L185.7,373.2 L186.7,374.2 L187.7,374.7 L188.7,373.7 L189.7,372.7 L190.7,371.7 L191.4,371.2 L192.2,372.7 L193.0,374.2 L194.0,374.7 L195.1,373.7 L195.8,371.2 L196.5,369.2 L197.3,366.2 L198.3,364.1 L199.3,362.1 L200.3,360.1 L201.3,358.1 L202.3,355.1 L203.3,350.1 L204.3,345.0 L205.1,341.0 L205.8,337.0 L206.3,336.0 L207.1,338.0 L207.8,340.0 L208.8,340.5 L209.8,340.0 L210.8,339.0 L211.5,337.0 L212.1,336.0 L212.8,337.5 L213.5,340.0 L214.3,342.5 L215.0,342.1 L216.0,343.1 L217.0,348.1 L218.0,350.2 L219.5,352.2 L220.5,353.2 L221.5,349.1 L222.2,353.2 L222.8,365.2 L223.2,368.0 L223.2,369.1 L224.5,370.6 L225.6,371.1 L226.6,367.1 L227.6,366.3 L228.6,369.1 L229.9,368.6 L230.1,368.0 L231.1,362.2 L232.1,357.2 L233.1,353.2 L234.1,346.1 L235.1,339.1 L236.1,334.1 L237.1,328.0 L238.1,320.0 L239.1,302.2 L239.6,282.1 L240.6,272.0 L241.3,236.2 L242.1,208.1 L242.8,240.0 L243.4,265.0 L244.2,273.0 L245.1,269.4 L245.7,272.0 L246.0,282.1 L246.4,292.1 L247.0,301.1 L247.7,299.1 L248.2,305.2 L248.7,312.2 L249.2,315.2 L249.7,307.2 L250.4,297.1 L251.0,299.1 L251.4,307.2 L252.0,320.0 L252.4,325.0 L253.0,330.1 L253.7,335.1 L254.4,340.1 L255.2,346.1 L256.2,347.1 L257.2,345.1 L258.2,344.1 L259.2,347.1 L259.7,341.6 L260.7,339.1 L261.7,337.6 L262.7,336.1 L263.7,333.1 L264.2,328.0 L264.9,333.1 L265.8,333.1 L266.8,335.1 L267.8,337.1 L268.8,339.1 L269.3,344.1 L270.1,340.1 L270.8,332.1 L271.5,326.0 L272.3,323.0 L273.3,323.0 L274.1,320.0 L274.3,310.0 L274.8,292.0 L275.3,277.0 L275.8,272.0 L276.2,226.2 L277.2,188.0 L277.9,180.0 L278.5,188.0 L279.3,226.2 L280.4,272.0 L280.8,287.1 L281.3,301.1 L282.1,297.1 L282.8,292.1 L283.3,282.1 L283.8,278.5 L284.5,287.1 L285.1,297.1 L285.7,304.2 L286.4,306.2 L286.9,312.2 L287.6,313.2 L288.4,317.2 L288.9,320.0 L288.4,326.0 L288.9,330.1 L289.9,334.1 L290.9,340.1 L291.9,345.1 L292.9,346.1 L293.9,345.1 L294.9,348.1 L295.9,351.2 L296.5,359.1 L297.5,356.1 L298.5,357.1 L299.5,359.1 L300.5,362.2 L301.5,362.7 L302.5,361.2 L303.5,358.1 L304.5,355.1 L305.6,351.6 L306.6,353.1 L307.6,355.1 L308.6,356.6 L309.6,359.1 L311.1,358.6 L312.6,359.6 L313.6,362.2 L315.1,361.2 L316.1,363.2 L317.6,365.2 L318.6,367.2 L320.1,368.2 L321.6,370.2 L322.6,373.2 L323.6,374.2 L325.2,373.7 L326.7,373.2 L328.2,374.2 L329.7,374.7 L331.2,373.7 L332.7,374.0 L334.2,374.2 L335.7,374.7 L337.2,374.2 L338.7,376.2 L340.2,377.2 L341.7,376.7 L343.2,376.2 L344.7,375.2 L346.3,374.2 L347.8,373.7 L349.3,374.2 L350.8,375.0 L352.3,375.7 L353.8,375.7 L355.3,374.7 L356.8,374.2 L358.3,373.7 L359.8,374.2 L361.3,373.2 L362.8,372.2 L364.3,370.2 L365.9,368.7 L367.4,367.7 L368.9,366.7 L370.4,367.7 L371.9,368.7 L372.9,369.7 L374.4,368.7 L375.9,367.7 L377.4,368.2 L378.0,367.7 L379.5,366.7 L380.5,365.7 L381.5,363.2 L382.5,359.1 L383.2,354.1 L384.0,353.1 L384.8,358.1 L385.6,359.1 L386.6,357.1 L387.6,355.1 L388.3,350.1 L388.9,345.1 L389.6,342.1 L390.3,342.6 L390.9,346.1 L391.6,347.6 L392.3,346.1 L392.9,349.1 L393.6,346.6 L394.3,350.1 L394.9,354.1 L395.6,355.1 L396.3,352.1 L397.1,351.1 L397.9,351.6 L398.6,354.1 L399.3,356.1 L400.1,354.6 L401.1,355.1 L402.1,356.1 L403.1,356.6 L404.1,355.6 L405.2,356.6 L406.2,356.1 L407.2,355.6 L408.2,356.1 L409.2,355.1 L410.2,355.6 L411.2,355.1 L412.2,356.6 L413.0,357.1 L413.7,355.1 L414.4,352.1 L415.2,349.1 L416.0,346.1 L416.7,343.1 L417.4,340.1 L418.0,338.5 L418.7,342.1 L419.4,346.1 L420.0,348.1 L420.7,355.1 L421.0,364.2 L421.4,368.2 L422.2,369.7 L423.2,370.2 L424.2,370.2 L425.3,370.7 L426.3,370.2 L427.3,370.7 L428.3,371.2 L429.3,371.0 L430.3,370.2 L431.3,369.7 L432.3,370.2 L433.3,370.0 L434.3,370.2 L435.3,370.7 L436.3,371.2 L437.1,369.7 L437.8,368.2 L438.8,367.2 L439.8,366.7 L440.8,365.7 L441.8,366.2 L442.8,365.2 L443.8,365.7 L444.8,364.7 L445.9,365.2 L446.6,360.2 L447.2,358.1 L447.9,359.1 L448.9,360.2 L449.9,359.6 L450.9,359.1 L451.9,358.1 L452.9,357.6 L453.9,357.1 L454.9,356.1 L455.0,358.1 L455.5,356.1 L456.0,355.1 L457.5,355.6 L459.0,356.1 L461.0,355.1 L462.0,354.6 L463.0,355.1 L464.5,350.1 L465.6,343.1 L466.6,341.1 L467.1,339.0 L468.1,338.0 L468.6,330.2 L469.6,324.2 L470.6,318.6 L471.3,320.2 L472.1,327.2 L472.9,330.2 L473.6,332.2 L474.6,331.2 L475.6,333.2 L476.6,331.2 L477.6,332.2 L478.6,330.2 L479.6,328.2 L480.6,323.2 L481.6,317.1 L482.6,315.1 L483.3,310.1 L484.1,306.1 L484.8,312.1 L485.7,318.1 L486.4,324.2 L487.2,332.2 L488.0,334.2 L488.7,328.2 L489.4,320.2 L490.2,313.1 L491.0,312.1 L491.7,318.1 L492.4,320.2 L493.2,316.1 L494.0,322.2 L494.7,321.2 L495.4,316.1 L496.2,308.1 L497.0,296.0 L497.7,290.0 L498.5,270.0 L499.2,252.0 L499.8,243.0 L500.2,260.0 L500.7,290.0 L501.2,295.0 L502.0,300.1 L502.7,296.0 L503.4,297.0 L504.0,303.1 L504.7,315.1 L505.5,323.2 L506.1,330.2 L506.3,335.0 L506.8,340.1 L507.3,343.1 L508.3,344.1 L509.3,345.1 L510.3,342.1 L511.3,341.1 L512.1,343.1 L512.8,350.1 L513.5,355.1 L514.3,358.1 L515.3,360.2 L516.3,362.2 L517.3,359.1 L518.3,358.1 L519.3,357.1 L520.3,356.6 L521.3,357.6 L522.3,359.1 L523.3,361.2 L524.3,362.2 L525.4,364.2 L526.4,367.2 L527.4,368.2 L528.4,369.2 L529.4,370.2 L530.4,370.7 L531.2,369.7 L531.9,366.2 L532.6,364.2 L533.2,363.2 L533.9,365.2 L534.6,368.2 L535.4,369.2 L536.4,369.7 L537.4,370.2 L538.0,368.7 L539.5,369.7 L541.0,371.2 L542.5,370.7 L544.0,371.7 L545.6,371.2 L547.1,371.7 L548.6,372.7 L549.6,373.7 L550.6,376.2 L551.6,378.7 L552.6,379.7 L553.6,379.2 L554.6,377.2 L555.6,375.7 L557.1,375.7 L558.6,376.2 L560.1,375.7 L561.6,375.2 L563.1,374.7 L564.6,373.7 L566.2,372.7 L567.7,372.2 L569.2,371.2 L570.2,371.7 L571.2,370.2 L572.2,368.2 L573.2,366.7 L574.2,365.6 L575.2,364.1 L576.2,361.1 L577.2,356.1 L578.0,352.1 L578.7,351.1 L579.7,353.1 L580.7,354.1 L581.4,351.1 L582.2,346.1 L583.0,340.0 L583.6,335.1 L584.6,334.1 L585.3,335.1 L585.8,340.0 L586.5,345.0 L587.3,347.6 L588.3,346.1 L589.3,344.0 L590.1,342.5 L590.8,345.0 L591.8,347.1 L592.8,349.1 L593.8,347.6 L594.8,346.1 L595.8,347.1 L596.5,350.1 L597.3,355.1 L598.1,358.1 L599.1,358.6 L600.3,358.1 L601.8,358.6 L603.3,358.1 L604.3,357.6 L604.5,357.6 L605.5,359.1 L606.2,364.1 L607.0,365.1 L608.0,364.6 L609.5,365.6 L610.6,364.1 L611.6,362.1 L613.1,361.1 L614.6,360.1 L616.1,359.6 L617.6,359.1 L619.1,359.6 L620.6,360.6 L621.6,361.6 L622.3,365.1 L622.9,371.2 L623.6,372.2 L624.6,370.2 L625.6,369.1 L626.6,367.6 L627.6,367.1 L628.6,368.1 L629.6,366.6 L630.7,362.6 L631.4,364.1 L632.0,373.2 L632.7,377.7 L633.7,378.2 L634.7,376.7 L635.4,373.2 L636.2,372.7 L637.2,375.2 L638.2,374.2 L639.2,373.2 L640.2,373.7 L641.2,374.2 L642.0,375.2 L643.0,372.2 L644.0,370.2 L645.2,368.6 L646.4,369.1 L647.7,368.6 L649.0,369.6 L650.1,370.2 L651.1,367.6 L652.3,368.1 L653.3,367.1 L654.3,368.1 L655.3,366.6 L656.3,367.6 L657.1,369.6 L657.8,370.2 L658.3,366.1 L658.8,360.1 L659.5,357.1 L660.3,355.6 L661.3,355.1 L662.3,354.6 L663.3,355.6 L664.3,353.1 L665.3,349.0 L666.1,346.0 L666.8,340.0 L667.0,336.0 L668.0,330.0 L669.5,333.0 L671.0,334.0 L672.5,328.0 L674.0,322.0 L675.6,324.2 L676.3,321.2 L677.1,317.2 L677.9,315.2 L678.6,314.7 L679.3,316.2 L680.2,318.7 L681.2,321.2 L682.2,322.7 L683.2,324.2 L684.2,326.2 L685.2,324.2 L686.0,323.7 L686.7,326.2 L687.4,332.0 L688.0,344.1 L688.4,353.1 L688.7,357.2 L689.7,356.7 L690.7,358.2 L691.4,359.7 L692.2,361.2 L693.0,364.2 L693.7,370.2 L694.2,372.0 L694.7,372.0 L695.2,364.2 L695.7,362.7 L696.7,362.2 L697.7,358.2 L698.7,354.2 L699.7,352.1 L700.8,350.6 L701.8,349.1 L702.5,348.6 L703.3,350.6 L704.3,352.1 L705.3,354.2 L706.3,357.2 L707.3,359.2 L708.3,357.2 L709.3,353.1 L710.3,350.1 L711.3,348.6 L712.3,349.1 L713.3,350.6 L714.3,350.6 L715.3,353.1 L716.3,356.2 L717.3,358.2 L718.3,359.2 L719.3,361.2 L720.4,362.7 L721.4,363.7 L722.4,365.2 L723.4,366.2 L724.4,367.2 L725.4,368.2 L726.2,369.7 L726.9,367.2 L727.9,365.7 L728.6,367.2 L729.6,369.2 L730.6,368.7 L731.6,367.7 L732.6,368.2 L733.6,366.2 L734.6,365.1 L735.6,365.6 L736.6,366.2 L737.6,367.2 L738.6,366.2 L739.6,367.2 L740.6,368.2 L741.6,370.7 L742.6,372.2 L743.6,372.7 L744.6,371.2 L745.7,371.7 L746.4,374.2 L747.2,376.7 L748.2,377.2 L749.7,377.2 L751.2,376.2 L752.7,375.7 L754.2,374.7 L755.7,374.7 L757.2,375.2 L758.7,375.7 L760.2,375.2 L761.7,375.7 L763.2,374.7 L764.7,374.7 L766.3,374.2 L767.8,373.7 L768.8,375.2 L769.8,376.2 L770.8,375.7 L771.8,374.7 L772.8,373.7 L773.8,374.2 L774.8,373.2 L775.8,373.7 L776.8,372.7 L777.8,370.7 L778.8,368.2 L779.8,366.7 L780.8,366.2 L781.8,365.1 L782.8,364.6 L783.8,363.1 L784.8,364.1 L785.9,365.6 L786.9,366.2 L787.4,366.2" fill="none" stroke="#29b6f6" stroke-width="1.95" stroke-linejoin="round" stroke-linecap="round"/>
<path d="M150.8,378.6 L151.8,376.6 L152.5,378.1 L153.5,380.1 L154.5,382.1 L155.6,383.1 L157.1,383.6 L158.6,384.1 L160.1,384.6 L161.6,384.9 L163.1,385.1 L164.6,385.3 L166.1,385.1 L167.6,384.6 L169.1,384.1 L170.6,383.3 L171.9,382.1 L173.1,380.6 L174.1,380.9 L175.7,381.6 L177.2,382.6 L178.7,383.1 L179.7,383.3 L181.2,382.9 L183.2,382.6 L185.2,382.9 L187.2,382.7 L189.2,382.5 L191.2,382.3 L192.7,381.9 L194.2,381.3 L195.3,380.6 L196.5,379.1 L197.8,377.6 L198.8,376.1 L199.8,374.5 L200.8,373.0 L201.8,371.0 L202.8,368.5 L203.8,363.6 L204.5,360.6 L205.1,358.1 L205.8,356.1 L206.3,353.6 L206.6,350.6 L207.0,356.1 L207.5,360.1 L208.3,358.1 L209.1,358.6 L209.8,357.6 L210.5,356.1 L211.3,354.6 L212.1,354.1 L212.8,355.1 L213.8,354.6 L215.0,357.2 L216.0,358.7 L217.0,360.2 L218.0,361.7 L219.5,362.2 L221.0,361.2 L222.5,360.7 L224.0,360.2 L225.6,361.2 L227.1,362.2 L228.6,362.7 L229.6,360.2 L230.6,356.2 L231.6,353.2 L232.6,350.2 L233.6,345.1 L234.6,339.1 L235.6,333.1 L236.6,326.0 L237.3,324.0 L237.9,330.1 L238.6,325.0 L239.1,320.0 L239.6,307.2 L240.3,292.1 L240.9,272.0 L241.3,246.3 L241.9,230.2 L242.4,246.3 L242.7,272.0 L242.6,282.1 L242.9,294.1 L243.3,307.2 L243.5,320.0 L242.6,330.1 L243.1,342.1 L243.6,330.1 L243.9,320.0 L244.1,302.2 L244.4,293.6 L244.8,305.2 L245.4,320.0 L245.7,325.0 L246.4,330.1 L247.2,332.1 L248.2,334.1 L249.2,337.1 L250.2,343.1 L251.2,350.2 L252.2,354.2 L253.2,358.2 L254.2,362.2 L255.2,366.2 L255.0,368.0 L257.0,367.0 L259.0,366.0 L261.0,367.0 L263.0,366.4 L266.0,367.0 L268.0,370.0 L270.0,369.0 L271.4,364.0 L272.6,356.0 L273.4,352.0 L274.3,352.2 L275.3,340.1 L276.3,328.0 L276.8,318.0 L277.1,303.0 L277.5,300.6 L278.1,307.0 L278.5,318.0 L278.8,330.1 L279.3,338.1 L279.8,345.1 L280.3,352.2 L281.3,347.1 L282.1,344.1 L282.8,341.1 L283.5,348.1 L284.3,350.2 L285.4,354.2 L286.4,359.2 L287.4,362.2 L288.4,366.2 L289.0,368.0 L290.6,371.0 L291.4,373.0 L293.0,372.0 L295.0,375.0 L297.0,377.0 L299.0,376.0 L302.0,375.6 L304.0,374.0 L306.0,375.0 L309.0,375.6 L312.0,377.0 L315.0,378.4 L318.0,380.0 L321.0,381.0 L324.0,382.0 L327.0,381.6 L330.0,381.0 L333.0,381.0 L336.0,381.6 L339.0,382.4 L341.0,381.0 L344.0,379.6 L347.0,378.4 L350.0,377.6 L353.0,377.0 L356.0,376.0 L359.0,375.0 L362.0,373.6 L365.0,372.4 L368.0,371.6 L371.0,370.6 L373.0,371.6 L375.0,370.0 L377.0,369.6 L379.0,368.4 L381.0,367.0 L381.0,367.2 L381.8,364.7 L382.5,360.2 L383.0,354.1 L383.5,357.1 L384.0,360.2 L384.8,362.2 L385.6,361.2 L386.3,360.2 L387.1,359.1 L387.9,357.1 L388.6,355.1 L389.3,354.1 L390.1,353.6 L390.9,354.6 L391.6,355.1 L392.3,354.6 L393.1,355.6 L393.9,358.1 L394.6,359.6 L395.6,360.2 L396.6,361.2 L397.6,360.7 L398.6,359.1 L399.6,358.1 L400.6,359.1 L401.6,359.6 L403.1,360.2 L404.6,359.6 L406.2,359.9 L407.7,359.6 L409.2,359.1 L410.7,359.6 L412.2,360.2 L413.2,360.7 L414.2,359.1 L415.2,356.1 L416.0,353.1 L416.7,350.1 L417.4,346.6 L418.0,348.1 L418.7,351.1 L419.4,352.1 L420.2,352.6 L421.2,353.6 L422.2,354.1 L423.2,355.1 L424.0,357.6 L424.7,359.6 L425.8,360.2 L426.8,360.7 L427.8,360.2 L428.8,361.2 L429.8,360.7 L430.8,361.7 L431.8,362.2 L433.3,362.7 L434.8,362.2 L436.3,361.7 L437.3,360.2 L438.3,359.6 L439.8,360.2 L441.3,359.9 L442.8,359.6 L444.3,359.9 L445.4,359.1 L446.2,356.1 L446.9,353.1 L447.4,351.6 L448.1,355.1 L448.7,359.1 L449.4,360.7 L450.2,359.1 L450.9,357.6 L451.9,356.6 L452.9,355.6 L453.9,355.1 L454.6,353.1 L455.4,351.6 L456.0,351.6 L457.0,354.1 L458.0,358.1 L459.0,362.2 L460.0,359.1 L461.0,357.1 L462.5,356.6 L464.0,356.1 L465.1,353.1 L466.1,349.1 L467.1,345.1 L468.1,336.0 L468.9,332.0 L468.9,332.2 L469.9,330.2 L470.9,330.2 L471.6,334.2 L471.6,338.0 L472.6,341.1 L473.6,342.1 L474.6,343.1 L475.6,344.1 L476.6,346.1 L477.6,343.1 L478.6,345.1 L479.1,340.1 L479.9,335.0 L480.6,330.0 L480.9,325.2 L481.6,324.2 L482.6,325.2 L483.3,321.2 L483.9,320.2 L484.6,325.2 L485.4,330.2 L485.7,340.1 L486.7,342.1 L487.7,339.0 L488.7,337.0 L489.2,330.2 L490.2,328.2 L491.2,327.2 L492.0,330.2 L492.7,326.2 L493.4,324.2 L494.0,327.2 L494.7,325.2 L495.4,324.2 L496.2,318.1 L497.0,310.1 L497.7,300.1 L498.4,290.0 L499.0,283.5 L499.5,288.0 L500.2,300.1 L500.7,310.1 L501.4,315.1 L502.2,311.1 L503.0,320.2 L503.7,328.2 L504.2,340.1 L505.3,343.1 L506.3,350.1 L506.8,356.1 L507.3,360.2 L508.3,352.1 L509.3,347.1 L510.1,355.1 L510.8,353.1 L511.5,357.1 L512.3,360.2 L513.1,364.2 L513.8,366.2 L514.8,368.2 L515.8,370.2 L516.8,371.2 L517.8,370.2 L518.8,368.2 L519.8,368.7 L520.8,369.7 L521.8,371.2 L522.8,373.2 L524.3,374.7 L525.9,376.2 L527.4,377.2 L529.4,377.2 L531.4,376.7 L532.9,376.2 L534.4,377.2 L536.4,378.0 L538.0,378.7 L540.0,379.2 L542.0,379.7 L544.0,379.7 L546.1,379.7 L548.1,379.7 L549.6,380.7 L551.1,382.2 L552.6,383.0 L554.1,382.7 L555.6,381.7 L557.1,381.2 L559.1,380.7 L561.1,380.2 L563.1,379.2 L565.2,378.2 L567.2,377.2 L568.7,376.2 L570.2,375.2 L571.7,374.2 L573.2,373.2 L574.7,371.7 L575.7,369.2 L576.7,366.2 L577.7,363.6 L578.7,362.1 L579.7,361.6 L580.7,362.1 L581.4,360.1 L582.2,357.1 L583.0,353.1 L583.7,350.1 L584.4,349.6 L585.3,353.1 L586.1,356.1 L586.8,358.6 L587.8,359.1 L588.5,356.1 L589.3,353.1 L590.1,353.6 L590.8,356.1 L591.8,358.1 L592.8,359.6 L593.8,360.1 L594.8,359.1 L595.8,360.1 L596.5,362.1 L597.3,364.6 L598.3,365.6 L599.3,365.1 L600.3,366.2 L601.1,367.2 L601.8,365.1 L602.8,363.1 L603.8,363.6 L604.5,365.6 L604.5,365.1 L605.5,368.1 L606.5,369.6 L608.0,370.2 L609.5,371.2 L611.1,370.2 L612.6,369.6 L614.1,368.1 L615.6,366.6 L617.1,365.6 L618.6,365.1 L619.6,366.6 L620.6,368.1 L621.3,370.2 L622.1,374.2 L622.9,377.2 L623.9,375.2 L625.1,374.2 L626.6,373.2 L628.1,372.7 L629.1,371.2 L630.2,369.1 L631.4,368.6 L632.4,367.6 L633.7,368.6 L635.2,368.1 L636.7,368.6 L638.2,368.6 L639.7,369.1 L641.2,368.6 L642.2,367.6 L643.2,365.1 L644.2,364.1 L645.7,363.1 L646.7,363.6 L647.7,364.1 L648.7,365.6 L650.3,365.6 L651.8,365.1 L653.3,365.1 L654.8,364.1 L655.8,362.1 L656.8,360.1 L657.8,357.1 L658.8,355.1 L659.8,353.1 L660.8,351.6 L661.8,351.1 L662.8,352.1 L663.8,350.1 L664.8,346.0 L665.8,342.0 L666.3,340.0 L666.1,332.0 L666.9,324.2 L667.6,319.7 L668.3,321.2 L669.1,327.2 L670.1,332.0 L670.1,334.1 L670.6,338.1 L671.3,332.0 L671.1,330.2 L672.1,324.2 L672.9,320.2 L673.6,316.2 L674.3,313.6 L674.9,318.2 L675.6,324.2 L676.3,325.2 L677.1,322.2 L677.9,324.2 L678.6,327.2 L679.6,330.2 L679.1,332.0 L680.2,333.5 L681.2,334.1 L682.2,336.1 L683.0,340.1 L683.7,344.1 L684.7,345.1 L685.7,348.1 L686.4,353.1 L687.2,359.2 L688.0,362.2 L689.2,362.7 L690.2,363.7 L691.2,365.2 L692.2,366.2 L693.2,367.2 L694.2,368.2 L695.2,369.7 L696.2,370.7 L697.2,368.7 L698.2,366.7 L699.2,365.2 L700.3,364.7 L701.3,364.2 L702.3,365.2 L703.3,366.2 L704.3,367.2 L705.3,368.2 L706.3,369.2 L707.3,369.7 L708.3,368.2 L709.3,366.2 L710.3,364.7 L711.3,365.2 L712.3,366.2 L713.3,366.7 L714.3,367.2 L715.3,368.2 L716.3,369.2 L717.3,370.2 L718.3,371.2 L719.3,372.0 L720.0,372.2 L721.0,372.7 L722.0,373.7 L723.0,374.7 L724.0,375.7 L725.1,376.7 L726.1,375.7 L727.1,374.7 L728.1,374.2 L729.1,375.2 L730.1,375.7 L731.1,374.7 L732.1,374.7 L733.1,374.2 L734.1,373.2 L735.1,372.2 L736.1,372.7 L737.1,373.7 L738.6,373.7 L739.6,374.7 L740.6,376.2 L741.6,377.2 L743.1,376.7 L744.6,376.2 L745.7,377.2 L746.7,379.7 L748.2,380.0 L749.7,379.7 L751.2,379.2 L752.7,378.7 L754.2,378.2 L755.7,378.2 L757.2,378.7 L758.7,379.2 L760.2,378.7 L761.7,378.7 L763.2,378.2 L764.7,378.2 L766.3,377.7 L767.8,376.7 L768.8,377.7 L769.8,378.2 L770.8,377.7 L772.3,377.2 L773.8,376.7 L775.3,376.2 L776.8,375.7 L777.8,374.2 L778.8,372.2 L779.8,370.7 L780.8,370.2 L781.8,369.2 L782.8,368.7 L783.8,368.2 L784.8,368.7 L785.9,369.7 L786.9,370.7 L787.4,371.2" fill="none" stroke="#f03c8c" stroke-width="1.95" stroke-linejoin="round" stroke-linecap="round"/>
<path d="M91.5,364.0 L787.5,364.0" fill="none" stroke="#505050" stroke-width="1.5" stroke-linejoin="round" stroke-linecap="round"/>
</g>
<line x1="787.5" x2="787.5" y1="77.5" y2="412.5" stroke="#4f4f4f" stroke-width="1.2"/>
<circle cx="41.0" cy="69.9" r="3.1" fill="#7d8f97"/>
<text x="47.0" y="73.2" font-size="8.6" fill="#333">BTC: Price [USD]</text>
<circle cx="172.3" cy="69.9" r="3.1" fill="#f7931a"/>
<text x="178.6" y="73.2" font-size="8.6" fill="#ccc">BTC: MVRV Ratio</text>
<circle cx="303.7" cy="69.9" r="3.1" fill="#f7931a"/>
<text x="309.8" y="73.2" font-size="8.6" fill="#ccc">BTC: aSOPR</text>
<circle cx="435.0" cy="69.9" r="3.1" fill="#f7931a"/>
<text x="441.2" y="73.2" font-size="8.6" fill="#ccc">BTC: Puell Multiple</text>
<circle cx="566.3" cy="69.9" r="3.1" fill="#f7931a"/>
<text x="572.6" y="73.2" font-size="8.6" fill="#ccc">BTC: Reserve Risk</text>
<circle cx="41.0" cy="80.4" r="3.1" fill="#45f574"/>
<text x="47.0" y="83.7" font-size="8.6" fill="#333">MVRV - 1</text>
<circle cx="172.3" cy="80.4" r="3.1" fill="#fbcb14"/>
<text x="178.6" y="83.7" font-size="8.6" fill="#333">aSOPR - 1 (x10)</text>
<circle cx="303.7" cy="80.4" r="3.1" fill="#29b6f6"/>
<text x="309.8" y="83.7" font-size="8.6" fill="#333">Puell Multiple - 1</text>
<circle cx="435.0" cy="80.4" r="3.1" fill="#f03c8c"/>
<text x="441.2" y="83.7" font-size="8.6" fill="#333">Reserve Risk Multiple - 1</text>
<circle cx="566.3" cy="80.4" r="3.1" fill="#505050"/>
<text x="572.6" y="83.7" font-size="8.6" fill="#333">0</text>
<text x="18" y="460" font-size="10" fill="#808080">© 2023 Glassnode. All Rights Reserved.</text>
<text x="741.3" y="461" font-size="19.2" fill="#111" stroke="#111" stroke-width="0.6" textLength="91" lengthAdjust="spacing">glassnode</text>
</svg></body></html>
